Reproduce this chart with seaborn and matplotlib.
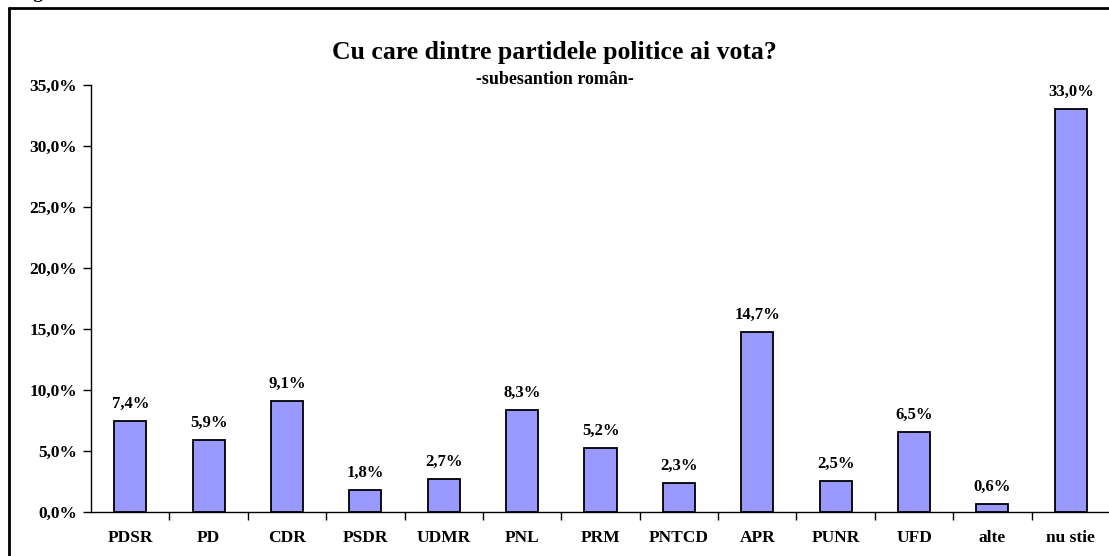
import matplotlib
matplotlib.use("Agg")
import matplotlib.pyplot as plt
import seaborn as sns
import pandas as pd
from matplotlib.ticker import FuncFormatter, FixedLocator

# Data
parties = ["PDSR", "PD", "CDR", "PSDR", "UDMR", "PNL", "PRM", "PNTCD",
           "APR", "PUNR", "UFD", "alte", "nu stie"]
votes = [7.4, 5.9, 9.1, 1.8, 2.7, 8.3, 5.2, 2.3, 14.7, 2.5, 6.5, 0.6, 33.0]
yticks = [0, 5, 10, 15, 20, 25, 30, 35]

df = pd.DataFrame({"party": parties, "vote": votes})

sns.set_style("white")
plt.rcParams['font.family'] = ['Liberation Serif', 'DejaVu Serif']
plt.rcParams['font.weight'] = 'bold'
plt.rcParams['text.color'] = 'black'
plt.rcParams['xtick.color'] = 'black'
plt.rcParams['ytick.color'] = 'black'
plt.rcParams['xtick.labelcolor'] = 'black'
plt.rcParams['ytick.labelcolor'] = 'black'

fig = plt.figure(figsize=(11.09, 5.56), dpi=100)
ax = fig.add_axes([91 / 1109, 1 - 511.5 / 556, (1110 - 91) / 1109, (511.5 - 85) / 556])

sns.barplot(data=df, x="party", y="vote", color="#9999FF", saturation=1,
            width=0.41, edgecolor="black", linewidth=1.3, ax=ax)

ax.set_ylim(0, 35)
ax.set_xlim(-0.5, len(parties) - 0.5)
ax.set_yticks(yticks)
ax.yaxis.set_major_formatter(FuncFormatter(lambda v, p: f"{v:.1f}%".replace(".", ",")))
ax.set_xlabel("")
ax.set_ylabel("")

for lbl in ax.get_xticklabels() + ax.get_yticklabels():
    lbl.set_fontweight("bold")
ax.tick_params(axis="y", length=6, width=1, colors="black", labelsize=12.5, pad=4, left=True)
ax.tick_params(axis="x", which="major", length=0, labelsize=12.5, pad=13, labelcolor="black")
ax.xaxis.set_minor_locator(FixedLocator([i + 0.5 for i in range(len(parties))]))
ax.tick_params(axis="x", which="minor", length=6, width=1, color="black", bottom=True)

for s in ["top", "right"]:
    ax.spines[s].set_visible(False)
for s in ["left", "bottom"]:
    ax.spines[s].set_color("black")
    ax.spines[s].set_linewidth(1)

for i, v in enumerate(votes):
    ax.text(i, v + 0.75, f"{v:.1f}%".replace(".", ","), ha="center", va="bottom",
            fontsize=12, fontweight="bold", color="black")

fig.text(0.5, 1 - 52 / 556, "Cu care dintre partidele politice ai vota?", ha="center",
         va="center", fontsize=18.5, fontweight="bold", color="black")
fig.text(0.5, 1 - 80 / 556, "-subesantion român-", ha="center", va="center",
         fontsize=13, fontweight="bold", color="black")

# partly cut-off figure caption and frame
fig.text(16 / 1109, 1 + 1.5 / 556, "Fig. 3", ha="left", va="baseline", fontsize=14,
         fontweight="bold", color="black")
fig.add_artist(plt.Line2D([9 / 1109, 9 / 1109], [0, 1 - 8 / 556], color="black", lw=2,
                          transform=fig.transFigure))
fig.add_artist(plt.Line2D([9 / 1109, 1], [1 - 8 / 556, 1 - 8 / 556], color="black", lw=2,
                          transform=fig.transFigure))

fig.savefig("out.png", dpi=100)
